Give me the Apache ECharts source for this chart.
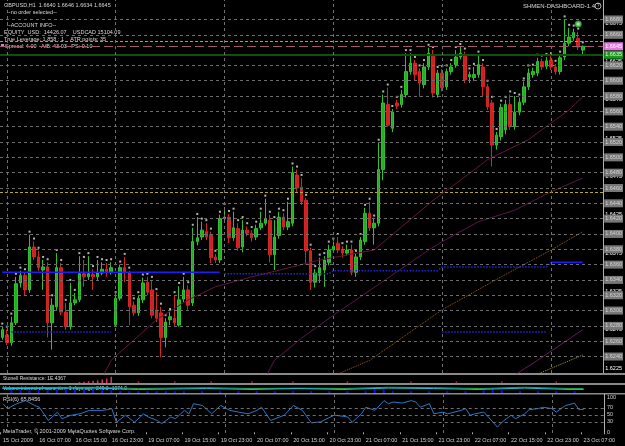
<!DOCTYPE html>
<html>
<head>
<meta charset="utf-8">
<script src="https://cdn.jsdelivr.net/npm/echarts@6/dist/echarts.min.js"></script>
<style>
html,body{margin:0;padding:0;background:#000;}
#chart{width:625px;height:446px;}
</style>
</head>
<body>
<div id="chart"></div>
<script>
// GBPUSD H1, 15 Oct 23:00 .. 23 Oct 07:00
var days = [['15 Oct', 23, 23], ['16 Oct', 0, 23], ['19 Oct', 0, 23], ['20 Oct', 0, 23],
            ['21 Oct', 0, 23], ['22 Oct', 0, 23], ['23 Oct', 0, 7]];
var categories = [];
days.forEach(function (d) {
    for (var h = d[1]; h <= d[2]; h++) {
        categories.push(d[0] + ' ' + (h < 10 ? '0' + h : h) + ':00');
    }
});

var opens = [
1.6265,1.6268,1.6258,1.6284,1.6336,1.6346,1.6327,1.6383,1.6370,1.6353,
1.6357,1.6284,1.6305,1.6356,1.6298,1.6279,1.6310,1.6314,1.6348,1.6344,
1.6347,1.6344,1.6349,1.6354,1.6350,1.6281,1.6316,1.6356,1.6349,1.6307,
1.6297,1.6314,1.6337,1.6327,1.6301,1.6297,1.6265,1.6288,1.6290,1.6281,
1.6315,1.6327,1.6310,1.6390,1.6396,1.6403,1.6399,1.6370,1.6366,1.6420,
1.6422,1.6395,1.6407,1.6383,1.6405,1.6401,1.6396,1.6408,1.6414,1.6418,
1.6373,1.6398,1.6422,1.6409,1.6414,1.6477,1.6461,1.6444,1.6378,1.6337,
1.6346,1.6353,1.6363,1.6379,1.6388,1.6380,1.6375,1.6379,1.6350,1.6370,
1.6390,1.6427,1.6408,1.6414,1.6484,1.6569,1.6538,1.6571,1.6569,1.6582,
1.6612,1.6623,1.6612,1.6595,1.6618,1.6634,1.6582,1.6610,1.6592,1.6612,
1.6621,1.6631,1.6634,1.6605,1.6604,1.6608,1.6618,1.6592,1.6571,1.6516,
1.6527,1.6536,1.6569,1.6540,1.6559,1.6572,1.6592,1.6608,1.6610,1.6625,
1.6619,1.6627,1.6618,1.6612,1.6631,1.6649,1.6656,1.6655,1.6640];
var closes = [
1.6275,1.6258,1.6284,1.6335,1.6346,1.6327,1.6383,1.6370,1.6356,1.6357,
1.6284,1.6307,1.6356,1.6298,1.6279,1.6310,1.6314,1.6348,1.6344,1.6348,
1.6344,1.6349,1.6354,1.6350,1.6356,1.6316,1.6356,1.6349,1.6305,1.6297,
1.6316,1.6336,1.6324,1.6294,1.6290,1.6265,1.6285,1.6292,1.6284,1.6314,
1.6327,1.6307,1.6390,1.6395,1.6405,1.6396,1.6369,1.6366,1.6420,1.6422,
1.6395,1.6408,1.6382,1.6405,1.6401,1.6395,1.6407,1.6414,1.6420,1.6373,
1.6396,1.6422,1.6409,1.6416,1.6480,1.6460,1.6442,1.6378,1.6337,1.6349,
1.6356,1.6366,1.6379,1.6384,1.6379,1.6375,1.6379,1.6350,1.6370,1.6392,
1.6427,1.6408,1.6414,1.6484,1.6571,1.6542,1.6559,1.6567,1.6582,1.6612,
1.6623,1.6608,1.6597,1.6618,1.6636,1.6584,1.6610,1.6591,1.6612,1.6618,
1.6631,1.6636,1.6601,1.6608,1.6608,1.6621,1.6592,1.6566,1.6516,1.6529,
1.6565,1.6569,1.6540,1.6559,1.6572,1.6592,1.6610,1.6612,1.6625,1.6618,
1.6626,1.6618,1.6612,1.6630,1.6649,1.6657,1.6663,1.6644,1.6645];
var lows = [
1.6262,1.6255,1.6254,1.6281,1.6330,1.6320,1.6323,1.6366,1.6352,1.6327,
1.6265,1.6249,1.6301,1.6294,1.6275,1.6275,1.6307,1.6311,1.6331,1.6340,
1.6327,1.6340,1.6346,1.6344,1.6347,1.6279,1.6313,1.6337,1.6281,1.6293,
1.6293,1.6310,1.6320,1.6290,1.6285,1.6239,1.6252,1.6281,1.6280,1.6279,
1.6311,1.6301,1.6306,1.6385,1.6392,1.6392,1.6362,1.6362,1.6362,1.6417,
1.6388,1.6391,1.6378,1.6376,1.6397,1.6390,1.6392,1.6405,1.6411,1.6363,
1.6353,1.6394,1.6405,1.6405,1.6410,1.6455,1.6438,1.6360,1.6327,1.6330,
1.6336,1.6331,1.6359,1.6375,1.6375,1.6369,1.6372,1.6346,1.6344,1.6366,
1.6386,1.6404,1.6386,1.6410,1.6470,1.6540,1.6533,1.6563,1.6565,1.6578,
1.6608,1.6601,1.6579,1.6590,1.6614,1.6578,1.6578,1.6586,1.6588,1.6608,
1.6617,1.6628,1.6597,1.6597,1.6600,1.6604,1.6579,1.6562,1.6488,1.6510,
1.6522,1.6530,1.6536,1.6536,1.6555,1.6568,1.6588,1.6604,1.6606,1.6614,
1.6615,1.6614,1.6608,1.6608,1.6627,1.6645,1.6652,1.6640,1.6634];
var highs = [
1.6279,1.6275,1.6292,1.6344,1.6352,1.6350,1.6399,1.6390,1.6378,1.6366,
1.6363,1.6316,1.6375,1.6362,1.6310,1.6336,1.6323,1.6371,1.6366,1.6371,
1.6354,1.6366,1.6363,1.6362,1.6363,1.6320,1.6360,1.6370,1.6352,1.6312,
1.6320,1.6343,1.6344,1.6340,1.6324,1.6305,1.6290,1.6298,1.6320,1.6332,
1.6344,1.6333,1.6408,1.6422,1.6416,1.6414,1.6403,1.6374,1.6425,1.6435,
1.6426,1.6429,1.6414,1.6418,1.6410,1.6405,1.6412,1.6429,1.6446,1.6425,
1.6418,1.6429,1.6427,1.6442,1.6488,1.6484,1.6473,1.6447,1.6382,1.6354,
1.6369,1.6371,1.6386,1.6390,1.6396,1.6384,1.6386,1.6386,1.6374,1.6396,
1.6434,1.6442,1.6420,1.6519,1.6582,1.6591,1.6563,1.6575,1.6588,1.6636,
1.6636,1.6627,1.6616,1.6623,1.6643,1.6640,1.6614,1.6615,1.6616,1.6623,
1.6640,1.6644,1.6638,1.6612,1.6618,1.6634,1.6623,1.6596,1.6575,1.6533,
1.6570,1.6575,1.6582,1.6580,1.6578,1.6599,1.6616,1.6617,1.6630,1.6629,
1.6631,1.6632,1.6622,1.6634,1.6680,1.6669,1.6668,1.6664,1.6646];

// right scale (white) and round-number levels (grey boxes)
var priceTicks = [1.6225, 1.6275, 1.6325, 1.6375, 1.6425, 1.6475, 1.6525, 1.6575, 1.6625, 1.6675];
var roundLevels = [1.6240, 1.6260, 1.6280, 1.6300, 1.6320, 1.6340, 1.6360, 1.6380, 1.6400, 1.6420,
                   1.6440, 1.6460, 1.6480, 1.6500, 1.6520, 1.6540, 1.6560, 1.6580, 1.6600, 1.6620, 1.6660, 1.6680];
var daySeps = ['16 Oct 00:00', '19 Oct 00:00', '20 Oct 00:00', '21 Oct 00:00', '22 Oct 00:00', '23 Oct 00:00'];
var bidPrice = 1.6645;
var greenLevel = 1.6634;
var greyLevel = 1.6651;
var yellowLevel = 1.6455;
var fractalUp = [[127, 1.6674]];

// indicator lines: [bar index, price]
var maUpper = [[22,1.6212],[24,1.6235],[34,1.6288],[41,1.6314],[47,1.6331],[55,1.6344],[64,1.6357],[70,1.6366],
               [82,1.6379],[95,1.6444],[101,1.6470],[107,1.6497],[116,1.6523],[125,1.6562],[128,1.6579]];
var maLower = [[58,1.6212],[60,1.6235],[66,1.6264],[74,1.6298],[79,1.6318],[94,1.6379],[97,1.6390],
               [105,1.6416],[113,1.6431],[121,1.6455],[128,1.6473]];
var maBottom = [[112,1.6212],[118,1.6235],[128,1.6275]];
var chanOrange = [[72,1.6212],[81,1.6235],[97,1.6301],[110,1.6344],[121,1.6379],[128,1.6403]];
var chanYellow = [[116,1.6212],[128,1.6242]];
var blueSolid = [[0,1.6350],[48,1.6350]];
var blueDotted = [[49,1.6348],[72,1.6348],[73,1.6352],[96,1.6352],[97,1.6357],[120,1.6357],[121,1.6363]];
var blueSolid2 = [[121,1.6363],[128,1.6363]];
var blueLow1 = [[2,1.6272],[24,1.6272]];
var blueLow2 = [[97,1.6272],[120,1.6272]];

// RSI(6): [bar index, value]
var rsiPts = [[0,82],[1,68],[3,82],[5,91],[7,77],[8,72],[10,34],[12,58],[13,39],[15,49],[17,53],[19,63],
  [22,63],[23,65],[24,68],[25,29],[27,49],[29,29],[31,53],[32,44],[34,34],[35,25],[37,44],[38,39],[40,63],
  [41,53],[42,82],[44,77],[46,53],[48,77],[50,63],[52,58],[54,53],[56,63],[57,72],[59,34],[61,44],[62,49],
  [64,77],[66,63],[68,27],[70,30],[73,49],[75,46],[76,44],[77,29],[79,53],[80,72],[82,63],[84,91],[85,82],
  [86,87],[88,84],[90,91],[91,87],[92,72],[94,82],[95,53],[97,58],[98,53],[101,63],[102,68],[103,49],
  [104,53],[106,58],[107,44],[109,15],[110,29],[112,49],[113,39],[115,53],[116,65],[118,68],[119,72],
  [121,68],[122,58],[124,77],[125,80],[126,84],[127,65],[128,65.8]];
var rsiTicks = [0, 30, 50, 70, 100];

// sub panels
var resistBars = [[17,1],[18,1.5],[19,2],[20,2.5],[21,3],[22,4],[23,5],[24,7]];
var resistDots = [[30,1],[38,1],[46,1],[55,1],[64,1],[76,1],[90,1],[100,1],[110,1],[122,1]];
var volBars = [[2,3],[4,3],[6,3],[8,3],[10,3],[12,4],[14,5],[16,5],[18,5],[20,5],[22,4],[24,3],[26,2],[28,2],
  [30,2],[32,2],[34,2],[36,2],[38,2],[40,2],[44,2],[48,2],[52,2],[56,2],[60,2],[64,2],[68,2],[72,2],[76,2],
  [80,2],[82,4],[84,4],[86,2],[90,2],[94,2],[98,2],[102,2],[106,3],[108,4],[110,3],[114,2],[118,2],[122,2],[126,2]];
var volGreen = [[0,6],[20,6.5],[30,5],[45,6],[55,5],[65,5.5],[75,5],[85,6.5],[95,6],[105,5],[115,6.5],[125,5],[128,5]];
var volCyan = [[0,5],[20,5.5],[30,4],[45,5],[55,4],[65,5],[75,4],[85,5.5],[95,5],[105,4],[115,5.5],[125,4],[128,4]];

var xLabels = {0: '15 Oct 2009'};

var xCats = categories.concat(['', '', '', '']);
var candleData = opens.map(function (o, i) { return [o, closes[i], lows[i], highs[i]]; });
var highDots = highs.map(function (h, i) { return [i, h + 0.0004]; });

var font = 'Liberation Sans';
var myChart = echarts.init(document.getElementById('chart'));

function xAx(gi, showLabel) {
    return {
        type: 'category', gridIndex: gi, data: xCats, boundaryGap: true,
        axisLine: {show: false}, splitLine: {show: false},
        axisTick: {show: showLabel, interval: 7, length: 2, lineStyle: {color: '#aaa'}},
        axisLabel: {
            show: showLabel, interval: 7, color: '#d0d0d0', fontSize: 5.5, fontFamily: font,
            align: 'left', margin: 4,
            formatter: function (v, i) { return xLabels[i] || v; }
        }
    };
}
function hidY(gi, min, max) {
    return {type: 'value', gridIndex: gi, min: min, max: max, show: false};
}
function lineSer(data, color, type, width, xi, yi) {
    return {type: 'line', data: data, xAxisIndex: xi || 0, yAxisIndex: yi || 0, symbol: 'none',
            silent: true, animation: false, lineStyle: {color: color, type: type, width: width || 1}};
}
function boxLabel(text, bg, fg) {
    return {show: true, position: 'end', distance: 1, formatter: text, backgroundColor: bg,
            color: fg, fontSize: 5.5, fontFamily: font, padding: [1, 1]};
}

var levelLines = roundLevels.map(function (v) {
    return {yAxis: v, lineStyle: {color: '#6c6c6c', type: [3, 3], width: 1},
            label: boxLabel(v.toFixed(4), '#787878', '#d4d4d4')};
});
levelLines.push({yAxis: greyLevel, lineStyle: {color: '#9a9a9a', type: [3, 2], width: 1}, label: {show: false}});
levelLines.push({yAxis: yellowLevel, lineStyle: {color: '#b8a820', type: [3, 2], width: 1}, label: {show: false}});
levelLines.push({yAxis: greenLevel, lineStyle: {color: '#0b520b', type: 'solid', width: 2},
                 label: boxLabel('1.6635', '#1a9a1a', '#eeeeee')});
levelLines.push({yAxis: bidPrice, lineStyle: {color: '#a05868', type: [9, 4], width: 1},
                 label: boxLabel(bidPrice.toFixed(4), '#e07ae0', '#ffffff')});
daySeps.forEach(function (d) {
    levelLines.push({xAxis: d, lineStyle: {color: '#707070', type: [3, 3], width: 1}, label: {show: false}});
});

// the level lines hang on a plain line series (candlestick markLine rounds the values)
var levelSeries = lineSer([], '#000', 'solid', 1);
levelSeries.markLine = {symbol: 'none', silent: true, animation: false, precision: 4, data: levelLines};

var option = {
    backgroundColor: '#000000',
    animation: false,
    grid: [
        {left: 0, right: 21, top: 0, height: 373},
        {left: 0, right: 21, top: 375, height: 8},
        {left: 0, right: 21, top: 385, height: 8},
        {left: 0, right: 21, top: 394, height: 39}
    ],
    xAxis: [xAx(0, false), xAx(1, false), xAx(2, false), xAx(3, true)],
    yAxis: [
        {type: 'value', gridIndex: 0, position: 'right', min: 1.62185, max: 1.67054, scale: true,
         axisLine: {show: true, lineStyle: {color: '#b0b0b0'}}, axisTick: {show: false},
         splitLine: {show: false},
         axisLabel: {customValues: priceTicks, color: '#ffffff', fontSize: 5.5, fontFamily: font,
                     margin: 2, align: 'left', formatter: function (v) { return v.toFixed(4); }}},
        hidY(1, 0, 9),
        hidY(2, 0, 9),
        {type: 'value', gridIndex: 3, position: 'right', min: -2, max: 110,
         axisLine: {show: true, lineStyle: {color: '#b0b0b0'}}, axisTick: {show: false},
         splitLine: {show: false},
         axisLabel: {customValues: rsiTicks, color: '#d0d0d0', fontSize: 5.5, fontFamily: font,
                     margin: 3, align: 'left'}}
    ],
    series: [
        levelSeries,
        lineSer(maUpper, '#64163a', 'solid', 1),
        lineSer(maLower, '#5a1648', 'solid', 1),
        lineSer(maBottom, '#6a1a5a', 'solid', 1),
        lineSer(chanOrange, '#9a6020', 'dotted', 1),
        lineSer(chanYellow, '#a0a020', 'dotted', 1),
        lineSer(blueSolid, '#1c1cff', 'solid', 1.5),
        lineSer(blueDotted, '#2424e0', 'dotted', 1.5),
        lineSer(blueSolid2, '#1c1cff', 'solid', 1.5),
        lineSer(blueLow1, '#2424e0', 'dotted', 1.5),
        lineSer(blueLow2, '#2424e0', 'dotted', 1.5),
        {
            type: 'candlestick', data: candleData, barWidth: 3,
            itemStyle: {color: '#20b020', color0: '#d02020', borderColor: '#30c030', borderColor0: '#d42424', borderWidth: 1}
        },
        {type: 'scatter', data: highDots, symbol: 'rect', symbolSize: 2, itemStyle: {color: '#e0e0e0'}, silent: true},
        {type: 'scatter', data: fractalUp, symbol: 'emptyCircle', symbolSize: 5, itemStyle: {color: '#30c030', borderColor: '#30c030'}, silent: true},
        {type: 'bar', xAxisIndex: 1, yAxisIndex: 1, data: resistBars, barWidth: 1.5, itemStyle: {color: '#e03060'}},
        {type: 'scatter', xAxisIndex: 1, yAxisIndex: 1, data: resistDots, symbol: 'rect', symbolSize: 1.5, itemStyle: {color: '#e03060'}},
        {type: 'bar', xAxisIndex: 2, yAxisIndex: 2, data: volBars, barWidth: 2, itemStyle: {color: '#1010e0'}},
        lineSer(volGreen, '#20a040', 'solid', 1, 2, 2),
        lineSer(volCyan, '#20c0d0', 'solid', 1, 2, 2),
        {
            type: 'line', xAxisIndex: 3, yAxisIndex: 3, data: rsiPts, symbol: 'none',
            lineStyle: {color: '#2a78c8', width: 1},
            markLine: {symbol: 'none', silent: true, animation: false, label: {show: false},
                       data: [{yAxis: 70}, {yAxis: 50}, {yAxis: 30}].map(function (d) {
                           d.lineStyle = {color: '#707070', type: [3, 3], width: 1}; return d; })
                           .concat(daySeps.map(function (d) {
                               return {xAxis: d, lineStyle: {color: '#707070', type: [3, 3], width: 1}}; }))}
        }
    ],
    graphic: [
        {type: 'rect', shape: {x: 0, y: 373, width: 625, height: 2}, style: {fill: '#8a8a8a'}},
        {type: 'rect', shape: {x: 0, y: 383, width: 625, height: 2}, style: {fill: '#8a8a8a'}},
        {type: 'rect', shape: {x: 0, y: 393, width: 625, height: 1.5}, style: {fill: '#8a8a8a'}},
        {type: 'text', left: 4, top: 2, style: {text: 'GBPUSD,H1  1.6640 1.6646 1.6634 1.6645', fill: '#d8d8d8', font: '5.5px ' + font}},
        {type: 'text', left: 7, top: 9, style: {text: '--no order selected--', fill: '#d8d8d8', font: '5.5px ' + font}},
        {type: 'text', left: 7, top: 22, style: {text: '--ACCOUNT INFO--', fill: '#d8d8d8', font: '5.5px ' + font}},
        {type: 'text', left: 4, top: 29, style: {text: 'EQUITY  USD:  14426.07    USDCAD 15104.09', fill: '#d8d8d8', font: '5.5px ' + font}},
        {type: 'text', left: 4, top: 36, style: {text: 'True Leverage: 1.858 : 1    ATR points: 35', fill: '#d8d8d8', font: '5.5px ' + font}},
        {type: 'rect', shape: {x: 1, y: 44, width: 3, height: 3}, style: {fill: '#e07ae0'}},
        {type: 'text', left: 5, top: 43, style: {text: 'Spread: 4.00   A/B: 43.03   PS: 0.10', fill: '#d8d8d8', font: '5.5px ' + font}},
        {type: 'text', right: 30, top: 3, style: {text: 'SHMEN-DASHBOARD-1.4', fill: '#d8d8d8', font: '6px ' + font}},
        {type: 'circle', shape: {cx: 598, cy: 6, r: 3}, style: {fill: 'none', stroke: '#d8d8d8', lineWidth: 0.8}},
        {type: 'text', x: 596.7, y: 3.2, style: {text: '?', fill: '#d8d8d8', font: '5px ' + font}},
        {type: 'text', left: 3, top: 376, style: {text: 'Stonell Resistance: 1E.4367', fill: '#d8d8d8', font: '5px ' + font}},
        {type: 'text', left: 3, top: 386, style: {text: 'Volume interest of same time 1 days ago: 245.0 -1074.0', fill: '#d8d8d8', font: '5px ' + font}},
        {type: 'text', left: 3, top: 396, style: {text: 'RSI(6) 65.8456', fill: '#d8d8d8', font: '5.5px ' + font}},
        {type: 'text', left: 3, top: 428, style: {text: 'MetaTrader, \u00a9 2001-2009 MetaQuotes Software Corp.', fill: '#d8d8d8', font: '5.5px ' + font}}
    ]
};

myChart.setOption(option);
</script>
</body>
</html>
